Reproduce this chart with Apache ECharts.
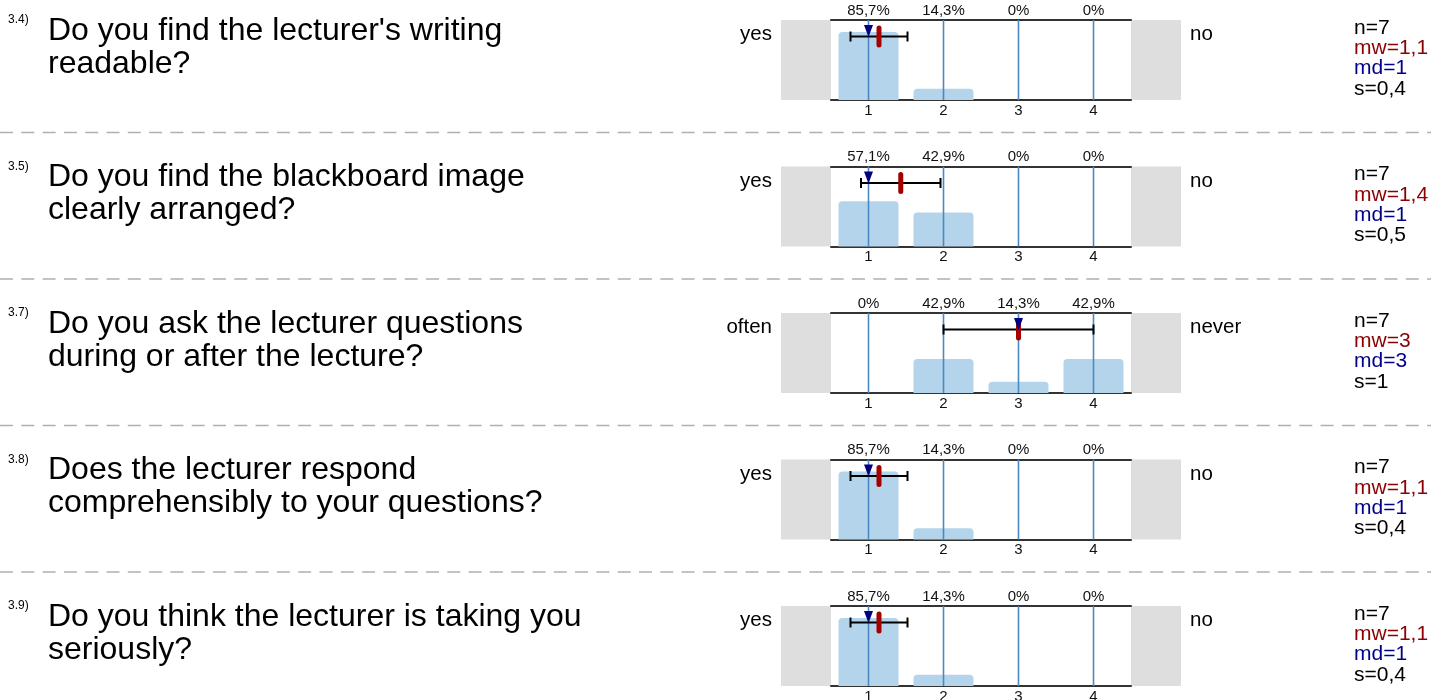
<!DOCTYPE html>
<html>
<head>
<meta charset="utf-8">
<script src="https://cdn.jsdelivr.net/npm/echarts@6/dist/echarts.min.js"></script>
<style>
html,body{margin:0;padding:0;background:#fff;}
#c{width:1431px;height:700px;}
</style>
</head>
<body>
<div id="c"></div>
<script>
// ---------- DATA ----------
const questionNumbers = ['3.4)', '3.5)', '3.7)', '3.8)', '3.9)'];
const questions = [
  "Do you find the lecturer's writing\nreadable?",
  "Do you find the blackboard image\nclearly arranged?",
  "Do you ask the lecturer questions\nduring or after the lecture?",
  "Does the lecturer respond\ncomprehensibly to your questions?",
  "Do you think the lecturer is taking you\nseriously?"
];
const leftLabels = ['yes', 'yes', 'often', 'yes', 'yes'];
const rightLabels = ['no', 'no', 'never', 'no', 'no'];
const categories = ['1', '2', '3', '4'];
const pctQ34 = [85.7, 14.3, 0, 0];
const pctQ35 = [57.1, 42.9, 0, 0];
const pctQ37 = [0, 42.9, 14.3, 42.9];
const pctQ38 = [85.7, 14.3, 0, 0];
const pctQ39 = [85.7, 14.3, 0, 0];
const percentages = [pctQ34, pctQ35, pctQ37, pctQ38, pctQ39];
const counts = [7, 7, 7, 7, 7];
const means = [1.14, 1.43, 3, 1.14, 1.14];
const medians = [1, 1, 3, 1, 1];
const sds = [0.38, 0.53, 1, 0.38, 0.38];

// ---------- LAYOUT / STYLE ----------
const FONT = '"Liberation Sans", Arial, sans-serif';
const GRID_LEFT = 831, GRID_W = 300, GRID_H = 80;
const ROW0 = 20, ROW_STEP = 146.5;
const ERR_OFFSET = 16.5;

function fmtNum(v, d) {
  const r = Number(v.toFixed(d));
  return String(r).replace('.', ',');
}
function fmtPct(v) {
  return v === 0 ? '0%' : v.toFixed(1).replace('.', ',') + '%';
}

const grids = [], xAxes = [], yAxes = [], series = [], graphics = [];

percentages.forEach((pcts, i) => {
  const top = ROW0 + ROW_STEP * i;
  grids.push({left: GRID_LEFT, top: top, width: GRID_W, height: GRID_H, containLabel: false, outerBoundsMode: 'none'});
  const xb = xAxes.length;
  xAxes.push({
    gridIndex: i, type: 'category', position: 'bottom', data: categories,
    axisLine: {show: true, onZero: false, lineStyle: {color: '#333', width: 2}},
    axisTick: {show: false},
    axisLabel: {fontSize: 15, color: '#111', fontFamily: FONT, margin: 3},
    splitLine: {show: false}
  });
  xAxes.push({
    gridIndex: i, type: 'category', position: 'top', data: categories,
    axisLine: {show: true, onZero: false, lineStyle: {color: '#333', width: 2}},
    axisTick: {show: false},
    axisLabel: {fontSize: 15, color: '#111', fontFamily: FONT, margin: 2,
      formatter: (v, idx) => fmtPct(pcts[idx])},
    splitLine: {show: false}
  });
  xAxes.push({gridIndex: i, type: 'value', min: 0.5, max: 4.5, show: false});
  yAxes.push({gridIndex: i, type: 'value', min: 0, max: 101, show: false});

  series.push({
    type: 'bar', xAxisIndex: xb, yAxisIndex: i, data: pcts, barWidth: 60,
    itemStyle: {color: '#b4d4eb', borderRadius: [4, 4, 0, 0]},
    silent: true, z: 2
  });
  series.push({
    type: 'custom', xAxisIndex: xb + 2, yAxisIndex: i, z: 3, silent: true,
    data: categories.map(c => [Number(c)]),
    encode: {x: 0},
    renderItem: (params, api) => {
      const x = api.coord([api.value(0), 0])[0];
      const cs = params.coordSys;
      return {type: 'line', shape: {x1: x, y1: cs.y, x2: x, y2: cs.y + cs.height},
        style: {stroke: '#4a89c4', lineWidth: 1.6}};
    }
  });
  series.push({
    type: 'custom', xAxisIndex: xb + 2, yAxisIndex: i, z: 4, silent: true,
    data: [[means[i], means[i] - sds[i], means[i] + sds[i], medians[i]]],
    encode: {x: [0, 1, 2, 3]},
    renderItem: (params, api) => {
      const cs = params.coordSys;
      const y = cs.y + ERR_OFFSET;
      const mx = api.coord([api.value(0), 0])[0];
      const lo = api.coord([api.value(1), 0])[0];
      const hi = api.coord([api.value(2), 0])[0];
      const md = api.coord([api.value(3), 0])[0];
      const black = {stroke: '#000', lineWidth: 2};
      return {type: 'group', children: [
        {type: 'line', shape: {x1: lo, y1: y, x2: hi, y2: y}, style: black},
        {type: 'line', shape: {x1: lo, y1: y - 5, x2: lo, y2: y + 5}, style: black},
        {type: 'line', shape: {x1: hi, y1: y - 5, x2: hi, y2: y + 5}, style: black},
        {type: 'rect', shape: {x: mx - 2.5, y: y - 11, width: 5, height: 22, r: 2.5},
          style: {fill: '#a50000'}},
        {type: 'polygon', shape: {points: [[md - 4.5, y - 11.5], [md + 4.5, y - 11.5], [md, y + 0.5]]},
          style: {fill: '#00007f'}}
      ]};
    }
  });

  graphics.push({type: 'rect', shape: {x: GRID_LEFT - 50, y: top, width: 50, height: GRID_H}, style: {fill: '#dedede'}, silent: true});
  graphics.push({type: 'rect', shape: {x: GRID_LEFT + GRID_W, y: top, width: 50, height: GRID_H}, style: {fill: '#dedede'}, silent: true});
  graphics.push({type: 'text', x: 8, y: top - 6, style: {text: questionNumbers[i], fontSize: 12, fontFamily: FONT, fill: '#000', verticalAlign: 'top'}});
  graphics.push({type: 'text', x: 48, y: top - 5.5, style: {text: questions[i], fontSize: 32, lineHeight: 33, fontFamily: FONT, fill: '#000', verticalAlign: 'top'}});
  graphics.push({type: 'text', x: 772, y: top + 14.5, style: {text: leftLabels[i], fontSize: 20.5, fontFamily: FONT, fill: '#000', align: 'right', verticalAlign: 'middle'}});
  graphics.push({type: 'text', x: 1190, y: top + 14.5, style: {text: rightLabels[i], fontSize: 20.5, fontFamily: FONT, fill: '#000', align: 'left', verticalAlign: 'middle'}});
  const stats = [
    ['n=' + counts[i], '#000'],
    ['mw=' + fmtNum(means[i], 1), '#8b0000'],
    ['md=' + fmtNum(medians[i], 1), '#00008b'],
    ['s=' + fmtNum(sds[i], 1), '#000']
  ];
  stats.forEach((s, k) => {
    graphics.push({type: 'text', x: 1354, y: top + 8 + k * 20.3, style: {text: s[0], fontSize: 21, fontFamily: FONT, fill: s[1], verticalAlign: 'middle'}});
  });
  if (i < percentages.length - 1) {
    const sy = top + 112.5;
    graphics.push({type: 'line', shape: {x1: 0, y1: sy, x2: 1431, y2: sy}, style: {stroke: '#b0b0b0', lineWidth: 1.3, lineDash: [13, 8.3]}, silent: true});
  }
});

const chart = echarts.init(document.getElementById('c'), null, {renderer: 'canvas'});
chart.setOption({
  animation: false,
  backgroundColor: '#fff',
  grid: grids,
  xAxis: xAxes,
  yAxis: yAxes,
  series: series,
  graphic: graphics
});
</script>
</body>
</html>
